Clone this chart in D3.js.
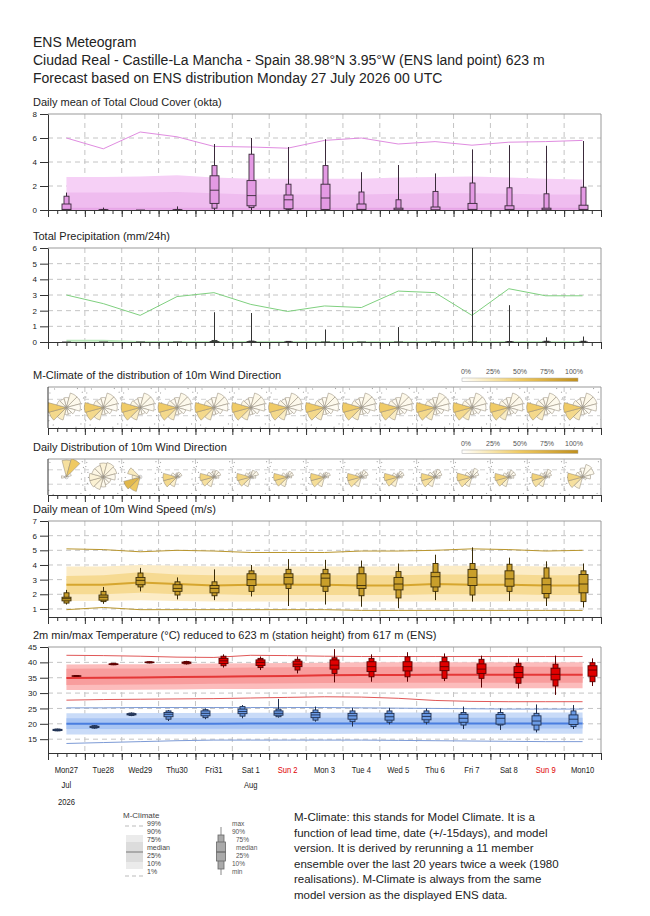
<!DOCTYPE html>
<html>
<head>
<meta charset="utf-8">
<script src="https://cdn.jsdelivr.net/npm/d3@7"></script>
<style>
  body { margin: 0; background: #fff; }
  text { font-family: "Liberation Sans", Arial, sans-serif; fill: #222; }
</style>
</head>
<body>
<div id="chart"></div>
<script>
// ---- data ----
var dayNames = ["Mon27", "Tue28", "Wed29", "Thu30", "Fri31", "Sat 1", "Sun 2", "Mon 3",
  "Tue 4", "Wed 5", "Thu 6", "Fri 7", "Sat 8", "Sun 9", "Mon10"];
var sundays = ["Sun 2", "Sun 9"];
var monthNames = ["Jul", "Aug"];
var monthDays = ["Mon27", "Sat 1"];

// cloud cover (okta): M-Climate
var cloud99 = [6.0, 5.1, 6.5, 6.1, 5.3, 5.25, 5.15, 5.8, 6.0, 5.5, 5.7, 5.4, 5.65, 5.7, 5.8];
var cloud90 = [2.75, 2.75, 2.8, 2.9, 2.7, 2.6, 2.6, 2.6, 2.6, 2.7, 2.75, 2.8, 2.7, 2.6, 2.55];
var cloud75 = [1.45, 1.45, 1.45, 1.5, 1.4, 1.3, 1.3, 1.3, 1.3, 1.35, 1.4, 1.4, 1.35, 1.3, 1.3];
var cloudMed = [0.1, 0.1, 0.1, 0.1, 0.1, 0.1, 0.1, 0.1, 0.1, 0.1, 0.1, 0.1, 0.1, 0.1, 0.1];
// ENS [min, p10, p25, median, p75, p90, max]
var cloudEns = [
  [0, 0, 0, 0.05, 0.5, 1.15, 1.45], [0, 0, 0, 0, 0.02, 0.05, 0.2], [0, 0, 0, 0, 0, 0, 0],
  [0, 0, 0, 0, 0.02, 0.05, 0.3], [0, 0.15, 0.55, 1.65, 2.85, 3.7, 5.5], [0, 0.2, 0.35, 1.2, 2.45, 4.65, 6.0],
  [0, 0.05, 0.1, 0.85, 1.25, 2.15, 5.25], [0, 0.02, 0.05, 1.0, 2.15, 3.7, 5.9], [0, 0, 0, 0.05, 0.5, 1.5, 3.15],
  [0, 0, 0, 0, 0.15, 0.85, 3.75], [0, 0, 0, 0, 0.25, 1.55, 3.05], [0, 0, 0, 0.05, 0.55, 2.25, 5.05],
  [0, 0, 0, 0.05, 0.35, 1.85, 5.4], [0, 0, 0, 0, 0.15, 1.35, 5.35], [0, 0, 0, 0.05, 0.4, 1.9, 5.75]
];

// precipitation (mm/24h)
var precip99 = [3.0, 2.45, 1.7, 2.9, 3.15, 2.4, 1.95, 2.3, 2.2, 3.25, 3.15, 1.7, 3.4, 2.95, 2.95];
var precip90 = [0.08, 0.08, 0, 0, 0, 0, 0, 0, 0, 0, 0, 0, 0, 0, 0];
var precipEns = [
  [0, 0, 0, 0, 0, 0, 0], [0, 0, 0, 0, 0, 0, 0], [0, 0, 0, 0, 0, 0, 0], [0, 0, 0, 0, 0, 0, 0],
  [0, 0, 0, 0, 0.02, 0.1, 1.9], [0, 0, 0, 0, 0.02, 0.06, 1.85], [0, 0, 0, 0, 0, 0.04, 0.05],
  [0, 0, 0, 0, 0, 0, 0.8], [0, 0, 0, 0, 0, 0, 0], [0, 0, 0, 0, 0, 0, 0.95], [0, 0, 0, 0, 0, 0, 0],
  [0, 0, 0, 0, 0, 0, 6.5], [0, 0, 0, 0, 0, 0.03, 2.35], [0, 0, 0, 0, 0, 0.05, 0.3], [0, 0, 0, 0, 0, 0.05, 0.35]
];

// wind direction roses, sectors N, 30, 60 ... 330 degrees
var dirAngles = [0, 30, 60, 90, 120, 150, 180, 210, 240, 270, 300, 330];
var mclimDirLen = [10, 15, 15, 14, 9, 7, 7, 13, 18, 19, 10, 9];
var mclimDirPct = [5, 7, 6, 4, 3, 3, 4, 18, 36, 48, 8, 5];
var dailyDirLen = [
  [17, 19, 5, 0, 0, 0, 0, 0, 0, 5, 0, 0],
  [14, 15, 14, 12, 8, 8, 10, 13, 14, 14, 12, 12],
  [0, 0, 0, 0, 0, 0, 0, 15, 17, 8, 13, 0],
  [4, 5, 5, 3, 0, 0, 0, 10, 14, 14, 6, 3],
  [6, 7, 7, 5, 3, 0, 0, 10, 13, 14, 7, 5],
  [5, 7, 8, 5, 3, 0, 0, 10, 13, 14, 6, 4],
  [4, 6, 6, 4, 0, 0, 0, 10, 13, 14, 6, 3],
  [4, 5, 6, 4, 0, 0, 0, 10, 14, 14, 6, 3],
  [5, 7, 7, 5, 3, 0, 0, 10, 14, 14, 6, 4],
  [4, 6, 6, 4, 0, 0, 0, 10, 13, 14, 6, 3],
  [6, 8, 7, 5, 3, 0, 0, 10, 14, 14, 7, 5],
  [6, 9, 7, 4, 0, 0, 0, 10, 14, 15, 7, 5],
  [5, 7, 7, 5, 3, 0, 0, 10, 13, 14, 6, 4],
  [5, 8, 6, 4, 0, 0, 0, 10, 14, 14, 6, 4],
  [9, 13, 12, 8, 4, 0, 0, 12, 15, 15, 7, 6]
];
var dailyDirPct = [
  [30, 50, 3, 0, 0, 0, 0, 0, 0, 3, 0, 0],
  [12, 10, 8, 6, 4, 4, 6, 10, 14, 12, 8, 8],
  [0, 0, 0, 0, 0, 0, 0, 50, 65, 15, 20, 0],
  [3, 4, 4, 2, 0, 0, 0, 15, 35, 40, 6, 2],
  [4, 6, 5, 3, 2, 0, 0, 12, 30, 40, 7, 3],
  [3, 6, 6, 3, 2, 0, 0, 12, 30, 40, 6, 3],
  [3, 5, 5, 3, 0, 0, 0, 14, 32, 42, 5, 2],
  [3, 4, 5, 3, 0, 0, 0, 14, 32, 42, 5, 2],
  [3, 5, 5, 3, 2, 0, 0, 13, 30, 42, 6, 3],
  [3, 5, 5, 3, 0, 0, 0, 14, 32, 42, 5, 2],
  [4, 6, 5, 3, 2, 0, 0, 12, 30, 40, 7, 3],
  [4, 6, 5, 3, 0, 0, 0, 13, 30, 40, 6, 3],
  [3, 5, 5, 3, 2, 0, 0, 13, 32, 42, 6, 3],
  [3, 6, 5, 3, 0, 0, 0, 13, 30, 42, 6, 3],
  [4, 6, 6, 4, 2, 0, 0, 14, 30, 40, 6, 3]
];
var pctTicks = [0, 25, 50, 75, 100];

// wind speed (m/s)
var wind99 = [5.1, 5.05, 4.9, 5.0, 4.95, 4.85, 4.85, 4.85, 4.95, 4.95, 5.0, 5.1, 5.05, 4.95, 5.0];
var wind90 = [3.9, 3.9, 4.0, 3.95, 3.9, 3.9, 3.9, 3.9, 3.9, 3.9, 3.95, 3.95, 3.95, 3.9, 3.9];
var wind75 = [3.25, 3.3, 3.5, 3.35, 3.3, 3.3, 3.3, 3.3, 3.3, 3.3, 3.35, 3.35, 3.35, 3.3, 3.3];
var windMed = [2.65, 2.65, 2.8, 2.7, 2.6, 2.65, 2.65, 2.65, 2.6, 2.6, 2.7, 2.65, 2.65, 2.6, 2.6];
var wind25 = [2.0, 2.0, 2.1, 2.0, 2.0, 1.95, 1.95, 1.95, 1.95, 1.95, 2.0, 2.0, 2.0, 1.95, 1.95];
var wind10 = [1.55, 1.55, 1.6, 1.55, 1.5, 1.5, 1.5, 1.5, 1.5, 1.5, 1.5, 1.5, 1.5, 1.5, 1.5];
var wind1 = [0.95, 1.1, 0.95, 0.95, 0.95, 0.95, 0.95, 0.95, 0.9, 0.9, 0.9, 0.9, 0.9, 0.9, 0.9];
var windEns = [
  [1.3, 1.4, 1.55, 1.7, 1.8, 2.1, 2.3], [1.35, 1.5, 1.6, 1.8, 1.95, 2.2, 2.5],
  [2.2, 2.5, 2.65, 2.95, 3.15, 3.45, 3.8], [1.65, 1.95, 2.2, 2.4, 2.65, 2.85, 3.15],
  [1.6, 1.9, 2.1, 2.4, 2.6, 2.85, 3.7], [1.85, 2.2, 2.6, 3.0, 3.4, 3.6, 4.0],
  [1.2, 2.4, 2.7, 3.15, 3.4, 3.7, 4.4], [1.3, 2.2, 2.55, 3.1, 3.4, 3.7, 4.35],
  [1.15, 1.9, 2.4, 2.6, 3.4, 3.85, 4.3], [1.05, 1.75, 2.3, 2.7, 3.15, 3.55, 4.1],
  [1.6, 2.2, 2.5, 3.2, 3.5, 4.1, 4.7], [1.5, 1.95, 2.6, 3.15, 3.7, 4.1, 5.2],
  [1.55, 2.2, 2.55, 3.05, 3.6, 4.05, 4.5], [1.2, 1.75, 2.05, 2.65, 3.1, 3.8, 4.25],
  [1.1, 1.5, 2.1, 2.7, 3.35, 3.6, 4.1]
];

// 2m temperature (°C): M-Climate of daily max
var tmax99 = [42.3, 42.2, 42.0, 41.7, 41.6, 42.3, 42.2, 42.0, 41.9, 41.9, 41.9, 41.9, 41.9, 41.9, 41.9];
var tmax90 = [39.3, 39.4, 39.4, 39.5, 39.6, 39.7, 39.8, 39.9, 40.0, 40.0, 40.0, 40.0, 40.0, 40.0, 40.0];
var tmax75 = [37.9, 38.0, 38.0, 38.1, 38.2, 38.3, 38.4, 38.5, 38.5, 38.6, 38.6, 38.6, 38.6, 38.6, 38.6];
var tmaxMed = [34.9, 35.0, 35.1, 35.2, 35.3, 35.5, 35.6, 35.8, 35.9, 35.9, 36.0, 36.0, 36.0, 36.0, 36.0];
var tmax25 = [32.6, 32.7, 32.8, 32.9, 33.0, 33.1, 33.2, 33.3, 33.3, 33.4, 33.4, 33.4, 33.4, 33.4, 33.4];
var tmax10 = [31.0, 31.0, 31.1, 31.2, 31.3, 31.3, 31.4, 31.5, 31.5, 31.5, 31.6, 31.6, 31.6, 31.6, 31.6];
var tmax1 = [27.7, 27.9, 28.0, 28.1, 28.2, 28.4, 28.6, 28.8, 28.7, 28.3, 27.6, 27.3, 27.2, 27.2, 27.2];
// M-Climate of daily min
var tmin99 = [25.2, 25.2, 25.3, 25.3, 25.3, 25.3, 25.3, 25.3, 25.2, 25.1, 25.0, 24.9, 24.8, 24.8, 24.8];
var tmin90 = [23.4, 23.4, 23.5, 23.5, 23.5, 23.6, 23.6, 23.6, 23.7, 23.7, 23.7, 23.7, 23.7, 23.7, 23.7];
var tmin75 = [21.8, 21.8, 21.8, 21.9, 21.9, 21.9, 21.9, 22.0, 22.0, 22.0, 22.0, 22.0, 22.0, 22.0, 22.0];
var tminMed = [20.0, 20.0, 20.0, 20.0, 20.0, 20.1, 20.1, 20.1, 20.1, 20.1, 20.1, 20.1, 20.1, 20.1, 20.1];
var tmin25 = [18.3, 18.3, 18.3, 18.4, 18.4, 18.4, 18.4, 18.5, 18.5, 18.5, 18.5, 18.5, 18.5, 18.5, 18.5];
var tmin10 = [16.5, 16.5, 16.6, 16.6, 16.6, 16.7, 16.7, 16.7, 16.8, 16.8, 16.8, 16.8, 16.8, 16.8, 16.8];
var tmin1 = [13.6, 13.9, 14.2, 14.5, 14.7, 14.7, 14.7, 14.7, 14.7, 14.6, 14.5, 14.4, 14.3, 14.2, 14.2];
var tmaxEns = [
  [35.3, 35.4, 35.5, 35.55, 35.6, 35.7, 35.8], [39.1, 39.2, 39.3, 39.4, 39.5, 39.7, 39.8],
  [39.7, 39.8, 39.9, 40.0, 40.1, 40.2, 40.3], [39.3, 39.5, 39.7, 39.9, 40.1, 40.3, 40.5],
  [38.3, 38.9, 39.6, 40.5, 41.3, 42.0, 42.6], [37.5, 38.3, 39.0, 40.0, 40.8, 41.3, 41.9],
  [36.4, 37.5, 38.6, 39.4, 40.4, 41.0, 41.9], [33.5, 36.4, 37.8, 39.1, 40.8, 41.5, 44.3],
  [33.7, 35.3, 37.0, 38.6, 40.2, 41.3, 42.6], [33.7, 35.3, 37.2, 38.6, 40.2, 41.8, 43.3],
  [33.9, 34.8, 37.3, 38.6, 40.2, 41.6, 42.9], [31.8, 34.8, 36.4, 37.8, 39.5, 41.0, 42.2],
  [31.5, 33.2, 35.0, 36.7, 38.6, 39.7, 41.3], [29.4, 32.3, 34.3, 36.1, 38.1, 39.4, 42.2],
  [32.3, 33.7, 35.5, 37.5, 38.9, 39.9, 41.3]
];
var tminEns = [
  [17.6, 17.7, 17.8, 18.0, 18.2, 18.3, 18.4], [18.4, 18.6, 18.8, 19.0, 19.2, 19.4, 19.6],
  [22.5, 22.7, 22.9, 23.1, 23.3, 23.5, 23.7], [20.9, 21.5, 22.3, 23.1, 23.7, 24.2, 24.5],
  [21.5, 22.0, 22.6, 23.4, 24.2, 24.6, 25.0], [21.8, 22.5, 23.3, 24.0, 24.8, 25.6, 26.1],
  [22.0, 22.3, 22.8, 23.4, 24.2, 24.8, 28.1], [20.7, 21.2, 22.0, 22.9, 23.7, 24.5, 25.6],
  [19.1, 20.7, 21.5, 22.6, 23.4, 24.2, 25.2], [19.8, 20.5, 21.2, 22.3, 23.4, 24.2, 25.2],
  [19.8, 20.5, 21.3, 22.4, 23.4, 24.2, 25.0], [18.3, 19.6, 20.5, 21.8, 23.1, 23.7, 25.6],
  [18.0, 19.6, 19.9, 21.8, 23.0, 23.7, 25.0], [17.2, 18.0, 19.6, 20.9, 22.6, 23.4, 26.3],
  [18.3, 19.1, 19.8, 21.5, 22.9, 24.2, 26.1]
];

// ---- layout ----
var svgWidth = 650, svgHeight = 916;
var left = 48, right = 601;
var start = new Date(Date.UTC(2026, 6, 27)), end = new Date(Date.UTC(2026, 7, 11));
var dayMid = dayNames.map((d, i) => new Date(Date.UTC(2026, 6, 27 + i, 12)));
var dayMin = dayNames.map((d, i) => new Date(Date.UTC(2026, 6, 27 + i, 6)));
var dayMax = dayNames.map((d, i) => new Date(Date.UTC(2026, 6, 27 + i, 18)));

var x = d3.scaleUtc().domain([start, end]).range([left, right]);

var svg = d3.select("#chart").append("svg")
  .attr("width", svgWidth)
  .attr("height", svgHeight);
var defs = svg.append("defs");

// header
["ENS Meteogram",
 "Ciudad Real - Castille-La Mancha - Spain 38.98°N 3.95°W (ENS land point) 623 m",
 "Forecast based on ENS distribution Monday 27 July 2026 00 UTC"].forEach(function(t, i) {
  svg.append("text").attr("x", 33).attr("y", 47 + i * 18).attr("font-size", 14).text(t);
});

var clipCount = 0;
// frame, grid and axes of one panel
function makePanel(top, bottom, domain, ticks, title) {
  var y = d3.scaleLinear().domain(domain).range([bottom, top]);
  var g = svg.append("g");
  g.append("text").attr("x", 33).attr("y", top - 8).attr("font-size", 11).text(title);

  var id = "clip" + (clipCount++);
  defs.append("clipPath").attr("id", id).append("rect")
    .attr("x", left).attr("y", top).attr("width", right - left).attr("height", bottom - top);

  var grid = g.append("g").attr("stroke", "#c4c4c4").attr("stroke-dasharray", "5,4");
  ticks.filter(t => y(t) > top + 1 && y(t) < bottom - 1).forEach(function(t) {
    grid.append("line").attr("x1", left).attr("x2", right).attr("y1", y(t)).attr("y2", y(t));
  });
  d3.utcDay.range(d3.utcDay.offset(start, 1), end).forEach(function(d) {
    grid.append("line").attr("x1", x(d)).attr("x2", x(d)).attr("y1", top).attr("y2", bottom);
  });

  // top / right frame
  g.append("path").attr("d", `M${left},${top}H${right}V${bottom}`)
    .attr("fill", "none").attr("stroke", "#999");

  var content = g.append("g").attr("clip-path", `url(#${id})`);

  // left axis
  var la = g.append("g").attr("transform", `translate(${left},0)`)
    .call(d3.axisLeft(y).tickValues(ticks).tickFormat(d3.format("d"))
      .tickSize(8).tickPadding(3).tickSizeOuter(0));
  la.select(".domain").attr("stroke", "#333");
  la.selectAll("line").attr("stroke", "#333");
  la.selectAll("text").attr("font-size", 8);
  if (!ticks.length) la.selectAll("path").attr("d", `M0,${top}V${bottom}`);

  // bottom axis, 6-hourly minor and daily major ticks
  var ba = g.append("g").attr("transform", `translate(0,${bottom})`);
  ba.call(d3.axisBottom(x).ticks(d3.utcHour.every(6)).tickSize(4).tickFormat("").tickSizeOuter(0));
  ba.append("g").call(d3.axisBottom(x).ticks(d3.utcDay.every(1)).tickSize(7).tickFormat("").tickSizeOuter(0));
  ba.selectAll("line").attr("stroke", "#333");
  ba.selectAll(".domain").attr("stroke", "#333");

  return { g: content, y: y, top: top, bottom: bottom };
}

function band(p, lo, hi, dates, fill) {
  p.g.append("path").datum(d3.range(lo.length))
    .attr("fill", fill)
    .attr("d", d3.area().x(i => x(dates[i])).y0(i => p.y(lo[i])).y1(i => p.y(hi[i])));
}
function line(p, vals, dates, color, w) {
  p.g.append("path").datum(d3.range(vals.length))
    .attr("fill", "none").attr("stroke", color).attr("stroke-width", w)
    .attr("d", d3.line().x(i => x(dates[i])).y(i => p.y(vals[i])));
}
function boxes(p, stats, dates, fill, stroke) {
  var b = p.g.selectAll(null).data(stats).enter().append("g")
    .attr("transform", (d, i) => `translate(${Math.round(x(dates[i])) + 0.5},0)`);
  b.append("line").attr("y1", d => p.y(d[0])).attr("y2", d => p.y(d[6]))
    .attr("stroke", stroke).attr("stroke-width", 1);
  b.append("rect").attr("x", -2.5).attr("width", 5)
    .attr("y", d => p.y(d[5])).attr("height", d => p.y(d[1]) - p.y(d[5]))
    .attr("fill", fill).attr("stroke", stroke).attr("stroke-width", 0.9);
  b.append("rect").attr("x", -4.5).attr("width", 9)
    .attr("y", d => p.y(d[4])).attr("height", d => p.y(d[2]) - p.y(d[4]))
    .attr("fill", fill).attr("stroke", stroke).attr("stroke-width", 0.9);
  b.append("line").attr("x1", -4.5).attr("x2", 4.5)
    .attr("y1", d => p.y(d[3])).attr("y2", d => p.y(d[3]))
    .attr("stroke", stroke).attr("stroke-width", 0.9);
}

// ---- cloud cover ----
var pc = makePanel(114, 210, [0, 8], [0, 2, 4, 6, 8], "Daily mean of Total Cloud Cover (okta)");
band(pc, cloudMed.map(() => 0), cloud90, dayMid, "#f6d0f6");
band(pc, cloudMed.map(() => 0), cloud75, dayMid, "#efbcef");
line(pc, cloudMed, dayMid, "#e7a6e7", 2);
line(pc, cloud99, dayMid, "#e08ce0", 1);
boxes(pc, cloudEns, dayMid, "#e49ae4", "#3a2a3a");

// ---- precipitation ----
var pp = makePanel(248, 342, [0, 6], [0, 1, 2, 3, 4, 5, 6], "Total Precipitation (mm/24h)");
line(pp, precip90, dayMid, "#b8e6b8", 2);
line(pp, precip99, dayMid, "#7fd07f", 1);
boxes(pp, precipEns, dayMid, "#7fd07f", "#333");

// ---- wind roses ----
var roseColor = d3.scaleLinear().domain([0, 25, 50, 100])
  .range(["#ffffff", "#f8e6ae", "#efc961", "#c08f1c"]);
var grad = defs.append("linearGradient").attr("id", "pctGrad");
pctTicks.forEach(function(t) {
  grad.append("stop").attr("offset", t + "%").attr("stop-color", roseColor(t));
});
var pctX = d3.scaleLinear().domain([0, 100]).range([466, 574]);

function roseLegend(yb) {
  var lg = svg.append("g");
  lg.selectAll(null).data(pctTicks).enter().append("text")
    .attr("x", d => pctX(d)).attr("y", yb).attr("text-anchor", "middle")
    .attr("font-size", 7).style("fill", "#555").text(d => d + "%");
  lg.append("rect").attr("x", 462).attr("y", yb + 4).attr("width", 116).attr("height", 3.5)
    .attr("fill", "url(#pctGrad)").attr("stroke", "#aaa").attr("stroke-width", 0.5);
}

var arc = d3.arc().innerRadius(0)
  .outerRadius(d => d.len)
  .startAngle(d => (d.a - 15) * Math.PI / 180)
  .endAngle(d => (d.a + 15) * Math.PI / 180);

function rosePanel(top, bottom, title, lens, pcts) {
  var p = makePanel(top, bottom, [0, 1], [], title);
  var cy = (top + bottom) / 2;
  // dashed guide lines and dotted reference rings
  [0.3, 0.7].forEach(function(f) {
    p.g.append("line").attr("x1", left).attr("x2", right)
      .attr("y1", top + f * (bottom - top)).attr("y2", top + f * (bottom - top))
      .attr("stroke", "#d0d0d0").attr("stroke-dasharray", "5,4");
  });
  p.g.selectAll(null).data(dayMid).enter().append("circle")
    .attr("cx", d => x(d)).attr("cy", cy).attr("r", 22)
    .attr("fill", "none").attr("stroke", "#a0a0a0").attr("stroke-width", 1.1)
    .attr("stroke-dasharray", "1,5");
  dayMid.forEach(function(d, i) {
    var sectors = dirAngles.map((a, k) => ({ a: a, len: lens[i][k], pct: pcts[i][k] }))
      .filter(s => s.len > 0);
    var rg = p.g.append("g").attr("transform", `translate(${x(d)},${cy})`);
    rg.selectAll(null).data(sectors).enter().append("path")
      .attr("d", arc)
      .attr("fill", s => roseColor(s.pct))
      .attr("stroke", "#8f8572").attr("stroke-width", 0.5);
    rg.append("circle").attr("r", 1.8).attr("fill", "none").attr("stroke", "#999").attr("stroke-width", 0.5);
  });
  return p;
}
rosePanel(387, 428, "M-Climate of the distribution of 10m Wind Direction",
  dayNames.map(() => mclimDirLen), dayNames.map(() => mclimDirPct));
roseLegend(374);
rosePanel(459, 495, "Daily Distribution of 10m Wind Direction", dailyDirLen, dailyDirPct);
roseLegend(446);

// ---- wind speed ----
var pw = makePanel(521, 617, [0.45, 7], [1, 2, 3, 4, 5, 6, 7], "Daily mean of 10m Wind Speed (m/s)");
band(pw, wind10, wind90, dayMid, "#fcecc6");
band(pw, wind25, wind75, dayMid, "#f6da92");
line(pw, windMed, dayMid, "#d6a62e", 2);
line(pw, wind99, dayMid, "#b9962f", 1);
line(pw, wind1, dayMid, "#b9962f", 1);
boxes(pw, windEns, dayMid, "#c99f2b", "#3a2c08");

// ---- temperature ----
var pt = makePanel(647, 753, [10.5, 45], [15, 20, 25, 30, 35, 40, 45],
  "2m min/max Temperature (°C) reduced to 623 m (station height) from 617 m (ENS)");
band(pt, tmax10, tmax90, dayMid, "#fcbcbc");
band(pt, tmax25, tmax75, dayMid, "#f89d9d");
line(pt, tmaxMed, dayMid, "#e53737", 2);
line(pt, tmax99, dayMid, "#e05858", 1);
line(pt, tmax1, dayMid, "#e05858", 1);
band(pt, tmin10, tmin90, dayMid, "#c9dbf8");
band(pt, tmin25, tmin75, dayMid, "#a9c5f3");
line(pt, tminMed, dayMid, "#4a7ee0", 2);
line(pt, tmin99, dayMid, "#7d9bd6", 1);
line(pt, tmin1, dayMid, "#7d9bd6", 1);
boxes(pt, tminEns, dayMin, "#6b9be6", "#1f2f4f");
boxes(pt, tmaxEns, dayMax, "#e10000", "#5a0000");

// day, month and year labels
svg.selectAll(null).data(dayNames).enter().append("text")
  .attr("transform", (d, i) => `translate(${x(dayMid[i])},773) scale(0.85,1)`)
  .attr("text-anchor", "middle").attr("font-size", 9)
  .style("fill", d => sundays.includes(d) ? "#e00000" : "#222")
  .text(d => d);
monthNames.forEach(function(m, k) {
  svg.append("text")
    .attr("transform", `translate(${x(dayMid[dayNames.indexOf(monthDays[k])])},788) scale(0.85,1)`)
    .attr("text-anchor", "middle").attr("font-size", 9).text(m);
});
svg.append("text").attr("transform", `translate(${x(dayMid[0])},805) scale(0.85,1)`)
  .attr("text-anchor", "middle").attr("font-size", 9).text("2026");

// ---- legends ----
var lg = svg.append("g");
lg.append("text").attr("x", 123).attr("y", 818).attr("font-size", 8).style("fill", "#444").text("M-Climate");
lg.append("line").attr("x1", 125).attr("x2", 143).attr("y1", 826).attr("y2", 826)
  .attr("stroke", "#bbb").attr("stroke-dasharray", "4,3");
lg.append("line").attr("x1", 125).attr("x2", 143).attr("y1", 876).attr("y2", 876)
  .attr("stroke", "#bbb").attr("stroke-dasharray", "4,3");
lg.append("rect").attr("x", 126).attr("y", 835).attr("width", 17).attr("height", 34).attr("fill", "#ebebeb");
lg.append("rect").attr("x", 126).attr("y", 842).attr("width", 17).attr("height", 20).attr("fill", "#dcdcdc");
lg.append("line").attr("x1", 126).attr("x2", 143).attr("y1", 852).attr("y2", 852)
  .attr("stroke", "#aaa").attr("stroke-width", 2);
["99%", "90%", "75%", "median", "25%", "10%", "1%"].forEach(function(t, i) {
  lg.append("text").attr("x", 147).attr("y", 826 + i * 8).attr("font-size", 7)
    .style("fill", "#444").text(t);
});

var bx = 221;
lg.append("line").attr("x1", bx).attr("x2", bx).attr("y1", 827).attr("y2", 875).attr("stroke", "#888");
lg.append("rect").attr("x", bx - 3).attr("y", 835).attr("width", 6).attr("height", 34)
  .attr("fill", "#aaa").attr("stroke", "#666").attr("stroke-width", 0.8);
lg.append("rect").attr("x", bx - 4.5).attr("y", 842).attr("width", 9).attr("height", 19)
  .attr("fill", "#aaa").attr("stroke", "#666").attr("stroke-width", 0.8);
lg.append("line").attr("x1", bx - 4.5).attr("x2", bx + 4.5).attr("y1", 852).attr("y2", 852).attr("stroke", "#555");
[["max", 232], ["90%", 232], ["75%", 236], ["median", 236], ["25%", 236], ["10%", 232], ["min", 232]]
  .forEach(function(t, i) {
    lg.append("text").attr("x", t[1]).attr("y", 826 + i * 8).attr("font-size", 6.5)
      .style("fill", "#555").text(t[0]);
  });

["M-Climate: this stands for Model Climate. It is a",
 "function of lead time, date (+/-15days), and model",
 "version. It is derived by rerunning a 11 member",
 "ensemble over the last 20 years twice a week (1980",
 "realisations). M-Climate is always from the same",
 "model version as the displayed ENS data."].forEach(function(t, i) {
  lg.append("text").attr("x", 294).attr("y", 821 + i * 15.5).attr("font-size", 11.5).text(t);
});
</script>
</body>
</html>
